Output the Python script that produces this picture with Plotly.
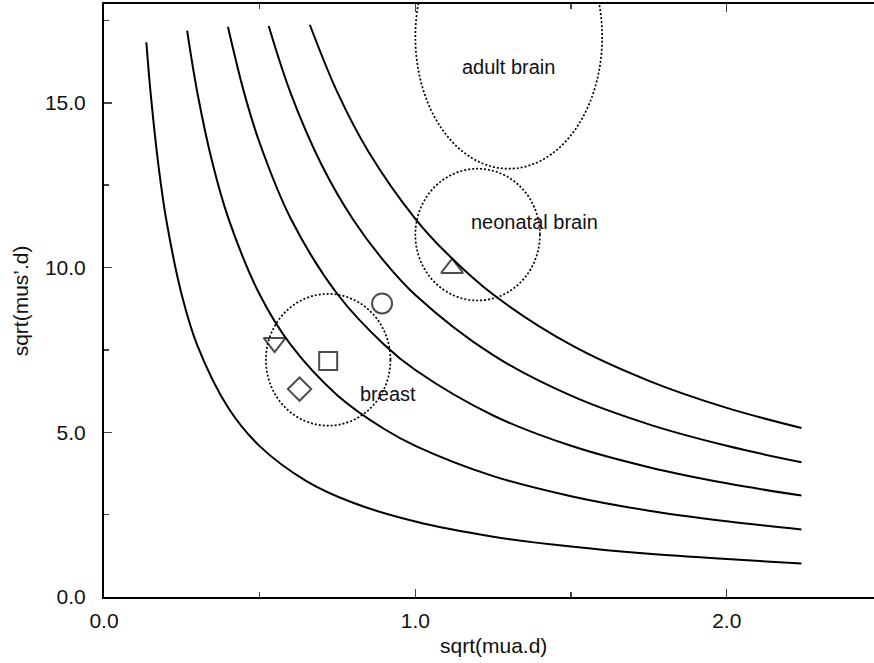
import plotly.graph_objects as go

# ---- curves ----
curve1_x = [0.136, 0.15, 0.175, 0.2, 0.25, 0.3, 0.4, 0.5, 0.65, 0.8, 1.0, 1.25, 1.5, 1.75, 2.0, 2.24]
curve1_y = [16.84, 15.27, 13.09, 11.45, 9.16, 7.63, 5.73, 4.58, 3.52, 2.86, 2.29, 1.83, 1.53, 1.31, 1.15, 1.02]

curve2_x = [0.267, 0.3, 0.35, 0.4, 0.5, 0.6, 0.75, 0.9, 1.0, 1.25, 1.5, 1.75, 2.0, 2.24]
curve2_y = [17.19, 15.30, 13.11, 11.48, 9.18, 7.65, 6.12, 5.10, 4.59, 3.67, 3.06, 2.62, 2.30, 2.05]

curve3_x = [0.398, 0.45, 0.5, 0.6, 0.75, 0.9, 1.0, 1.25, 1.5, 1.75, 2.0, 2.24]
curve3_y = [17.31, 15.31, 13.78, 11.48, 9.19, 7.66, 6.89, 5.51, 4.59, 3.94, 3.45, 3.08]

curve4_x = [0.529, 0.6, 0.7, 0.8, 0.9, 1.0, 1.25, 1.5, 1.75, 2.0, 2.24]
curve4_y = [17.33, 15.28, 13.10, 11.46, 10.19, 9.17, 7.34, 6.11, 5.24, 4.59, 4.09]

curve5_x = [0.661, 0.75, 0.85, 1.0, 1.1, 1.25, 1.5, 1.75, 2.0, 2.24]
curve5_y = [17.37, 15.31, 13.51, 11.48, 10.44, 9.18, 7.65, 6.56, 5.74, 5.13]

# ---- point markers ----
marker_x = [0.548, 0.72, 0.628, 0.893, 1.118]
marker_y = [7.72, 7.16, 6.31, 8.91, 9.98]
marker_symbols = ["triangle-down-open", "square-open", "diamond-open", "circle-open", "triangle-up-open"]
marker_sizes = [19, 18, 18, 20, 19]

# ---- tissue regions (dotted ellipses) ----
region_names = ["breast", "neonatal brain", "adult brain"]
region_cx = [0.72, 1.2, 1.3]
region_cy = [7.2, 11.0, 17.0]
region_rx = [0.2, 0.2, 0.3]
region_ry = [2.0, 2.0, 4.0]
label_x = [0.912, 1.384, 1.3]
label_y = [6.17, 11.38, 16.1]

# ---- axes ----
x_ticks = [0.0, 1.0, 2.0]
x_ticklabels = ["0.0", "1.0", "2.0"]
y_ticks = [0.0, 5.0, 10.0, 15.0]
y_ticklabels = ["0.0", "5.0", "10.0", "15.0"]

FONT = "Liberation Sans, Arial, Helvetica, sans-serif"
FS = 21
TXT = "#111"

fig = go.Figure()
for cx, cy in [(curve1_x, curve1_y), (curve2_x, curve2_y), (curve3_x, curve3_y),
               (curve4_x, curve4_y), (curve5_x, curve5_y)]:
    fig.add_trace(go.Scatter(x=cx, y=cy, mode="lines",
                             line=dict(color="black", width=2, shape="spline", smoothing=1.0),
                             showlegend=False, hoverinfo="skip"))

fig.add_trace(go.Scatter(x=marker_x, y=marker_y, mode="markers",
                         marker=dict(symbol=marker_symbols, size=marker_sizes, color="black",
                                     line=dict(color="black", width=2)),
                         showlegend=False))

for cx, cy, rx, ry in zip(region_cx, region_cy, region_rx, region_ry):
    fig.add_shape(type="circle", xref="x", yref="y",
                  x0=cx - rx, x1=cx + rx, y0=cy - ry, y1=cy + ry,
                  line=dict(color="black", width=1.7, dash="2px,2px"))

for name, lx, ly in zip(region_names, label_x, label_y):
    fig.add_annotation(x=lx, y=ly, xref="x", yref="y", text=name, showarrow=False,
                       font=dict(family=FONT, size=FS - 1, color=TXT),
                       xanchor="center", yanchor="middle")

# axis titles
fig.add_annotation(x=1.25, y=-0.0815, xref="x", yref="paper", text="sqrt(mua.d)",
                   showarrow=False, font=dict(family=FONT, size=FS, color=TXT),
                   xanchor="center", yanchor="middle")
fig.add_annotation(x=-0.108, y=0.5, xref="paper", yref="paper", text="sqrt(mus’.d)",
                   textangle=-90, showarrow=False, font=dict(family=FONT, size=FS, color=TXT),
                   xanchor="center", yanchor="middle")

fig.update_layout(
    width=874, height=663,
    margin=dict(l=104, r=0, t=4, b=66),
    paper_bgcolor="white", plot_bgcolor="white",
    font=dict(family=FONT, size=FS, color=TXT),
    showlegend=False,
    hovermode=False,
    xaxis=dict(range=[0, 2.473], tickvals=x_ticks, ticktext=x_ticklabels,
               ticks="inside", ticklen=8, tickwidth=1.5, tickcolor="#444",
               showline=True, linecolor="black", linewidth=2, mirror="allticks",
               showgrid=False, zeroline=False,
               minor=dict(dtick=0.5, ticks="inside", ticklen=5, tickwidth=1.5, tickcolor="#444",
                          showgrid=False),
               tickfont=dict(family=FONT, size=FS, color=TXT), ticklabelstandoff=4),
    yaxis=dict(range=[0, 18], tickvals=y_ticks, ticktext=y_ticklabels,
               ticks="inside", ticklen=8, tickwidth=1.5, tickcolor="#444",
               showline=True, linecolor="black", linewidth=2,
               showgrid=False, zeroline=False,
               minor=dict(dtick=2.5, ticks="inside", ticklen=5, tickwidth=1.5, tickcolor="#444",
                          showgrid=False),
               tickfont=dict(family=FONT, size=FS, color=TXT), ticklabelstandoff=12),
)

fig.write_html("out.html",
               config={"displayModeBar": False, "staticPlot": True},
               post_script="document.body.style.margin='0';document.body.style.overflow='hidden';")
